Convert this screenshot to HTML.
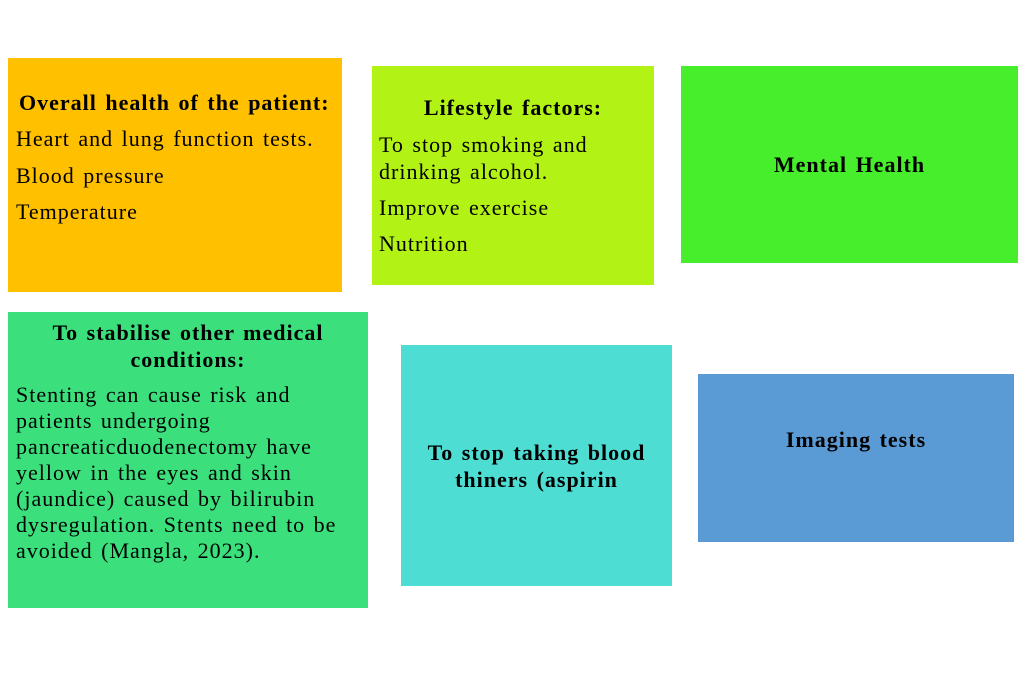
<!DOCTYPE html>
<html><head><style>
body{margin:0;width:1023px;height:677px;background:#fff;position:relative;overflow:hidden;font-family:"Liberation Serif",serif;color:#000}
.b{position:absolute}
.t{position:absolute;font-size:22px;white-space:nowrap;line-height:26px;letter-spacing:1px;word-spacing:2px}
.h{font-weight:bold}
.c{text-align:center}
</style></head><body>
<div class="b" style="left:8px;top:58px;width:334px;height:234px;background:#FFC000"></div>
<div class="t h" style="left:19px;top:90px">Overall health of the patient:</div>
<div class="t" style="left:16px;top:126px">Heart and lung function tests.</div>
<div class="t" style="left:16px;top:163px">Blood pressure</div>
<div class="t" style="left:16px;top:199px">Temperature</div>

<div class="b" style="left:372px;top:66px;width:282px;height:219px;background:#B3F215"></div>
<div class="t h c" style="left:372px;width:282px;top:95px">Lifestyle factors:</div>
<div class="t" style="left:379px;top:131px;line-height:27px">To stop smoking and<br>drinking alcohol.</div>
<div class="t" style="left:379px;top:195px">Improve exercise</div>
<div class="t" style="left:379px;top:231px">Nutrition</div>

<div class="b" style="left:681px;top:66px;width:337px;height:197px;background:#47EE2B"></div>
<div class="t h c" style="left:681px;width:337px;top:152px">Mental Health</div>

<div class="b" style="left:8px;top:312px;width:360px;height:296px;background:#3BE07D"></div>
<div class="t h c" style="left:8px;width:360px;top:319px;line-height:27px">To stabilise other medical<br>conditions:</div>
<div class="t" style="left:16px;top:382px;line-height:26px">Stenting can cause risk and<br>patients undergoing<br>pancreaticduodenectomy have<br>yellow in the eyes and skin<br>(jaundice) caused by bilirubin<br>dysregulation. Stents need to be<br>avoided (Mangla, 2023).</div>

<div class="b" style="left:401px;top:345px;width:271px;height:241px;background:#4DDDD3"></div>
<div class="t h c" style="left:401px;width:271px;top:439px;line-height:27px">To stop taking blood<br>thiners (aspirin</div>

<div class="b" style="left:698px;top:374px;width:316px;height:168px;background:#5B9BD5"></div>
<div class="t h c" style="left:698px;width:316px;top:427px">Imaging tests</div>
</body></html>
